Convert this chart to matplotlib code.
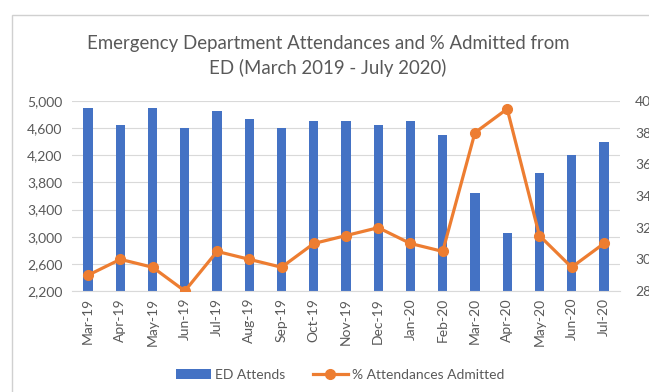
import matplotlib
matplotlib.use('Agg')
import matplotlib.pyplot as plt
from matplotlib.patches import Rectangle
from matplotlib.ticker import FuncFormatter

months = ['Mar-19', 'Apr-19', 'May-19', 'Jun-19', 'Jul-19', 'Aug-19', 'Sep-19',
          'Oct-19', 'Nov-19', 'Dec-19', 'Jan-20', 'Feb-20', 'Mar-20', 'Apr-20',
          'May-20', 'Jun-20', 'Jul-20']
attends = [4900, 4650, 4900, 4600, 4850, 4740, 4600, 4700, 4700, 4650, 4700,
           4500, 3650, 3050, 3940, 4200, 4400]
pct_admitted = [29.0, 30.0, 29.5, 28.0, 30.5, 30.0, 29.5, 31.0, 31.5, 32.0, 31.0,
                30.5, 38.0, 39.5, 31.5, 29.5, 31.0]

blue = '#4472C4'
orange = '#ED7D31'
grey_txt = '#595959'

plt.rcParams['font.family'] = ['Lato', 'DejaVu Sans']

W, H = 649, 392
fig = plt.figure(figsize=(W / 100, H / 100), dpi=100)

# chart frame, runs off the right and bottom edges
fig.patches.append(Rectangle((12 / W, -0.1), 1.0, 1 - 15 / H + 0.1,
                             transform=fig.transFigure, fill=False,
                             edgecolor='#d0d0d0', linewidth=1.0))

ax = fig.add_axes([72 / W, 1 - 291 / H, 548 / W, 190 / H])
x = list(range(len(months)))
ax.bar(x, attends, width=0.29, color=blue, zorder=2, label='ED Attends')
ax.set_xlim(-0.5, len(months) - 0.5)
ax.set_ylim(2200, 5000)
ax.set_yticks(range(2200, 5001, 400))
ax.yaxis.set_major_formatter(FuncFormatter(lambda v, p: f'{int(v):,}'))
ax.grid(axis='y', color='#d9d9d9', linewidth=0.8, zorder=0)
ax.set_xticks(x)
ax.set_xticklabels(months, rotation=90)
for s in ['top', 'right', 'left']:
    ax.spines[s].set_visible(False)
ax.spines['bottom'].set_color('#d9d9d9')
ax.tick_params(axis='y', length=0, pad=7, labelsize=10, labelcolor=grey_txt)
ax.tick_params(axis='x', length=0, pad=5, labelsize=10, labelcolor=grey_txt)

ax2 = ax.twinx()
ax2.plot(x, pct_admitted, color=orange, linewidth=2.3, marker='o',
         markersize=7, zorder=3, label='% Attendances Admitted')
ax2.set_ylim(28, 40)
ax2.set_yticks(range(28, 41, 2))
for s in ['top', 'right', 'left', 'bottom']:
    ax2.spines[s].set_visible(False)
ax2.tick_params(axis='y', length=0, pad=11, labelsize=10, labelcolor=grey_txt)

fig.text(328 / W, 1 - 43 / H, 'Emergency Department Attendances and % Admitted from',
         ha='center', va='center', fontsize=13.4, color=grey_txt)
fig.text(328 / W, 1 - 68 / H, 'ED (March 2019 - July 2020)',
         ha='center', va='center', fontsize=13.4, color=grey_txt)

h1, l1 = ax.get_legend_handles_labels()
h2, l2 = ax2.get_legend_handles_labels()
fig.legend(h1 + h2, l1 + l2, loc='center', bbox_to_anchor=(340 / W, 1 - 375 / H),
           ncol=2, frameon=False, fontsize=10, labelcolor=grey_txt,
           handlelength=2.5, columnspacing=2.0, handletextpad=0.3)

fig.savefig('out.png', dpi=100)
